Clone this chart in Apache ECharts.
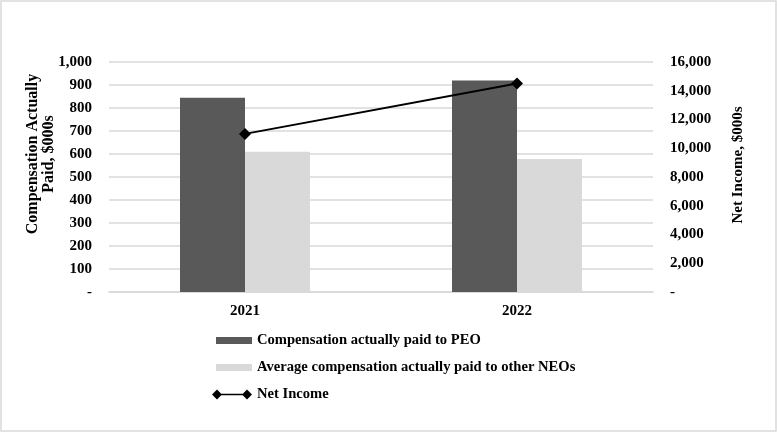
<!DOCTYPE html>
<html lang="en" style="height: 100%">
<head>
    <meta charset="utf-8">
</head>
<body style="height: 100%; margin: 0">
<div id="container" style="width: 777px; height: 432px"></div>

<script type="text/javascript" src="https://cdn.jsdelivr.net/npm/echarts@6/dist/echarts.min.js"></script>
<script type="text/javascript">
    // values, $000s
    var years = ['2021', '2022'];
    var peoPaid = [845, 920];
    var neoPaid = [610, 578];
    var netIncome = [11000, 14500];

    var FONT = "'Liberation Serif', 'Times New Roman', serif";
    var txt = { fontFamily: FONT, fontSize: 15, fontWeight: 'bold', color: '#000' };

    var dom = document.getElementById('container');
    var myChart = echarts.init(dom, null, { renderer: 'canvas' });

    function fmt(v) {
        return v === 0 ? '-' : v.toLocaleString('en-US');
    }

    var lineIcon = 'path://M0 5L5 0L10 5L5 10ZM5 4.3L35 4.3L35 5.7L5 5.7ZM30 5L35 0L40 5L35 10Z';

    function legendAt(name, top, w, h, icon) {
        return {
            data: [{ name: name, icon: icon }],
            left: 207 + (40 - w),
            top: top,
            itemWidth: w,
            itemHeight: h,
            symbolKeepAspect: false,
            selectedMode: false,
            textStyle: Object.assign({}, txt, { fontSize: 14.6 })
        };
    }

    var option = {
        animation: false,
        grid: { left: 109, right: 124, top: 62, bottom: 140 },
        legend: [
            legendAt('Compensation actually paid to PEO', 328, 36, 7, 'rect'),
            legendAt('Average compensation actually paid to other NEOs', 355, 36, 7, 'rect'),
            legendAt('Net Income', 382, 40, 10, lineIcon)
        ],
        xAxis: {
            type: 'category',
            data: years,
            axisLine: { lineStyle: { color: '#d9d9d9', width: 1.5 } },
            axisTick: { show: false },
            axisLabel: Object.assign({ margin: 12 }, txt)
        },
        yAxis: [
            {
                type: 'value',
                min: 0,
                max: 1000,
                interval: 100,
                axisLine: { show: false },
                axisTick: { show: false },
                splitLine: { lineStyle: { color: '#d9d9d9', width: 1.5 } },
                axisLabel: Object.assign({ margin: 17, formatter: fmt }, txt)
            },
            {
                type: 'value',
                min: 0,
                max: 16000,
                interval: 2000,
                axisLine: { show: false },
                axisTick: { show: false },
                splitLine: { show: false },
                axisLabel: Object.assign({ margin: 17, formatter: fmt }, txt)
            }
        ],
        graphic: [
            {
                type: 'rect',
                shape: { x: 1, y: 1, width: 775, height: 430 },
                style: { fill: 'none', stroke: '#d9d9d9', lineWidth: 1.5 },
                silent: true
            },
            {
                type: 'text',
                x: 41,
                y: 154,
                rotation: Math.PI / 2,
                style: Object.assign({
                    text: 'Compensation Actually\nPaid, $000s',
                    textAlign: 'center',
                    textVerticalAlign: 'middle',
                    lineHeight: 16
                }, txt, { fill: '#000', fontSize: 16 })
            },
            {
                type: 'text',
                x: 738,
                y: 165,
                rotation: Math.PI / 2,
                style: Object.assign({
                    text: 'Net Income, $000s',
                    textAlign: 'center',
                    textVerticalAlign: 'middle'
                }, txt, { fill: '#000' })
            }
        ],
        series: [
            {
                name: 'Compensation actually paid to PEO',
                type: 'bar',
                data: peoPaid,
                barWidth: 65,
                barGap: '0%',
                itemStyle: { color: '#595959' }
            },
            {
                name: 'Average compensation actually paid to other NEOs',
                type: 'bar',
                data: neoPaid,
                barWidth: 65,
                itemStyle: { color: '#d9d9d9' }
            },
            {
                name: 'Net Income',
                type: 'line',
                yAxisIndex: 1,
                data: netIncome,
                symbol: 'diamond',
                symbolSize: 12,
                itemStyle: { color: '#000' },
                lineStyle: { color: '#000', width: 2 }
            }
        ]
    };

    myChart.setOption(option);
    window.addEventListener('resize', myChart.resize);
</script>
</body>
</html>
